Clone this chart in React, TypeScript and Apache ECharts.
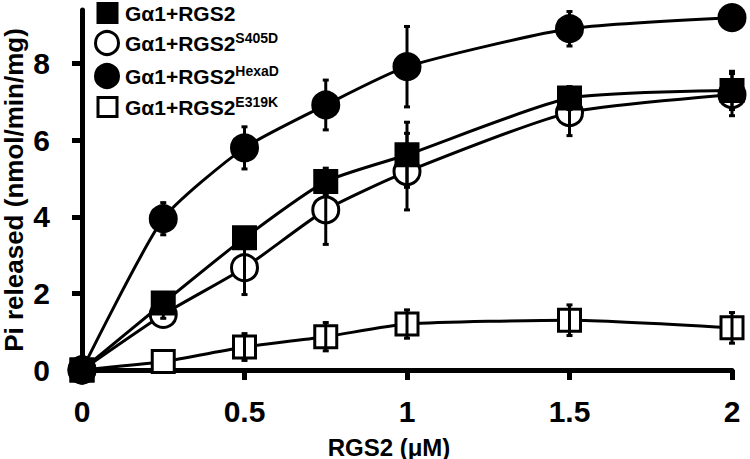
import React, { useEffect, useRef } from "react";
import * as echarts from "echarts";

// RGS2 concentration (µM)
const X = [0, 0.25, 0.5, 0.75, 1, 1.5, 2];

// Pi released (nmol/min/mg), means and error
const RGS2_Y = [0, 1.75, 3.45, 4.92, 5.62, 7.1, 7.3];
const RGS2_E = [0, 0.1, 0.15, 0.35, 0.85, 0.3, 0.5];
const S405D_Y = [0, 1.45, 2.67, 4.18, 5.18, 6.72, 7.19];
const S405D_E = [0, 0.1, 0.7, 0.9, 1.0, 0.6, 0.55];
const HEXAD_Y = [0, 3.95, 5.8, 6.92, 7.92, 8.91, 9.2];
const HEXAD_E = [0, 0.42, 0.55, 0.65, 1.05, 0.45, 0];
const E319K_Y = [0, 0.22, 0.6, 0.87, 1.2, 1.3, 1.1];
const E319K_E = [0, 0, 0.35, 0.37, 0.37, 0.4, 0.4];

const BASE = "Gα1+RGS2";
const SUPS = ["", "S405D", "HexaD", "E319K"];
const X_TICKS = [0, 0.5, 1, 1.5, 2];
const Y_TICKS = [0, 2, 4, 6, 8];

const FONT = "'Liberation Sans', Arial, sans-serif";

export default function App() {
  const ref = useRef<HTMLDivElement>(null);
  useEffect(() => {
    if (!ref.current) return;
    const chart = echarts.init(ref.current, null, { renderer: "svg" });
    const names = SUPS.map((s) => (s ? BASE + s : BASE));
    const groups = [
      { name: names[0], y: RGS2_Y, e: RGS2_E, symbol: "rect", size: 22, fill: "#000" },
      { name: names[1], y: S405D_Y, e: S405D_E, symbol: "circle", size: 26, fill: "#fff" },
      { name: names[2], y: HEXAD_Y, e: HEXAD_E, symbol: "circle", size: 26, fill: "#000" },
      { name: names[3], y: E319K_Y, e: E319K_E, symbol: "rect", size: 22, fill: "#fff" },
    ];
    // drawing order: HexaD, E319K, S405D, RGS2 (on top)
    const drawOrder = [2, 3, 1, 0];
    const series: any[] = [];
    drawOrder.forEach((gi, k) => {
      const g = groups[gi];
      series.push({
        type: "line",
        name: g.name,
        data: X.map((x, i) => [x, g.y[i]]),
        smooth: 0.2,
        symbol: g.symbol,
        symbolSize: g.size,
        showAllSymbol: true,
        lineStyle: { color: "#000", width: 3 },
        itemStyle: { color: g.fill, borderColor: "#000", borderWidth: 3, opacity: 1 },
        z: 2 + k,
        clip: false,
      });
    });
    drawOrder.forEach((gi) => {
      const g = groups[gi];
      series.push({
        type: "custom",
        name: g.name + " err",
        data: X.map((x, i) => [x, g.y[i], g.e[i]]),
        encode: { x: 0, y: 1 },
        z: 10,
        clip: false,
        silent: true,
        renderItem: (params: any, api: any) => {
          const x = api.value(0);
          const y = api.value(1);
          const e = api.value(2);
          if (!e) return { type: "group", children: [] };
          const top = api.coord([x, y + e]);
          const bot = api.coord([x, y - e]);
          const style = { stroke: "#000", lineWidth: 3 };
          return {
            type: "group",
            children: [
              { type: "line", shape: { x1: top[0], y1: top[1], x2: bot[0], y2: bot[1] }, style },
              { type: "line", shape: { x1: top[0] - 3, y1: top[1], x2: top[0] + 3, y2: top[1] }, style },
              { type: "line", shape: { x1: bot[0] - 3, y1: bot[1], x2: bot[0] + 3, y2: bot[1] }, style },
            ],
          };
        },
      });
    });

    // legend drawn as graphic elements
    const legendRows = [13, 43, 76, 107];
    const legendGraphic: any[] = [];
    groups.forEach((g, i) => {
      const cy = legendRows[i];
      const style = { fill: g.fill, stroke: "#000", lineWidth: 3 };
      if (g.symbol === "rect") {
        legendGraphic.push({ type: "rect", shape: { x: 98, y: cy - 9.5, width: 19, height: 19 }, style });
      } else {
        legendGraphic.push({ type: "circle", shape: { cx: 107, cy, r: 11.5 }, style });
      }
      const sup = SUPS[i];
      legendGraphic.push({
        type: "text",
        x: 125,
        y: cy,
        style: {
          text: sup ? `{m|${BASE}}{s|${sup}}` : `{m|${BASE}}`,
          verticalAlign: "middle",
          align: "left",
          rich: {
            m: { fontFamily: FONT, fontSize: 21, fontWeight: "bold", fill: "#000", lineHeight: 24 },
            s: { fontFamily: FONT, fontSize: 14, fontWeight: "bold", fill: "#000", lineHeight: 24, verticalAlign: "top" },
          },
        },
      });
    });

    chart.setOption({
      animation: false,
      backgroundColor: "#fff",
      textStyle: { fontFamily: FONT },
      grid: { left: 82, right: 18, top: 10, bottom: 89, containLabel: false, outerBoundsMode: "none" },
      graphic: legendGraphic,
      xAxis: {
        type: "value",
        min: 0,
        max: 2,
        interval: 0.5,
        name: "RGS2 (μM)",
        nameLocation: "middle",
        nameGap: 65,
        nameMoveOverlap: false,
        nameTextStyle: { fontFamily: FONT, fontSize: 24, fontWeight: "bold", color: "#000", padding: [0, 36, 0, 0] },
        axisLine: { show: true, lineStyle: { color: "#000", width: 5 } },
        axisTick: { show: true, length: 10, lineStyle: { color: "#000", width: 5 }, customValues: X_TICKS },
        axisLabel: {
          fontFamily: FONT,
          fontSize: 30,
          fontWeight: "bold",
          color: "#000",
          margin: 26,
          customValues: X_TICKS,
          formatter: (v: number) => String(v),
        },
        splitLine: { show: false },
      },
      yAxis: {
        type: "value",
        min: 0,
        max: 9.4,
        interval: 2,
        name: "Pi released (nmol/min/mg)",
        nameLocation: "middle",
        nameGap: 55,
        nameMoveOverlap: false,
        nameTextStyle: { fontFamily: FONT, fontSize: 26, fontWeight: "bold", color: "#000", lineHeight: 26 },
        axisLine: { show: true, lineStyle: { color: "#000", width: 5 } },
        axisTick: { show: true, length: 10, lineStyle: { color: "#000", width: 5 }, customValues: Y_TICKS },
        axisLabel: {
          fontFamily: FONT,
          fontSize: 30,
          fontWeight: "bold",
          color: "#000",
          margin: 32,
          customValues: Y_TICKS,
        },
        splitLine: { show: false },
      },
      series,
    });
    return () => chart.dispose();
  }, []);
  return <div ref={ref} style={{ width: 750, height: 459, position: "absolute", left: 0, top: 0 }} />;
}
